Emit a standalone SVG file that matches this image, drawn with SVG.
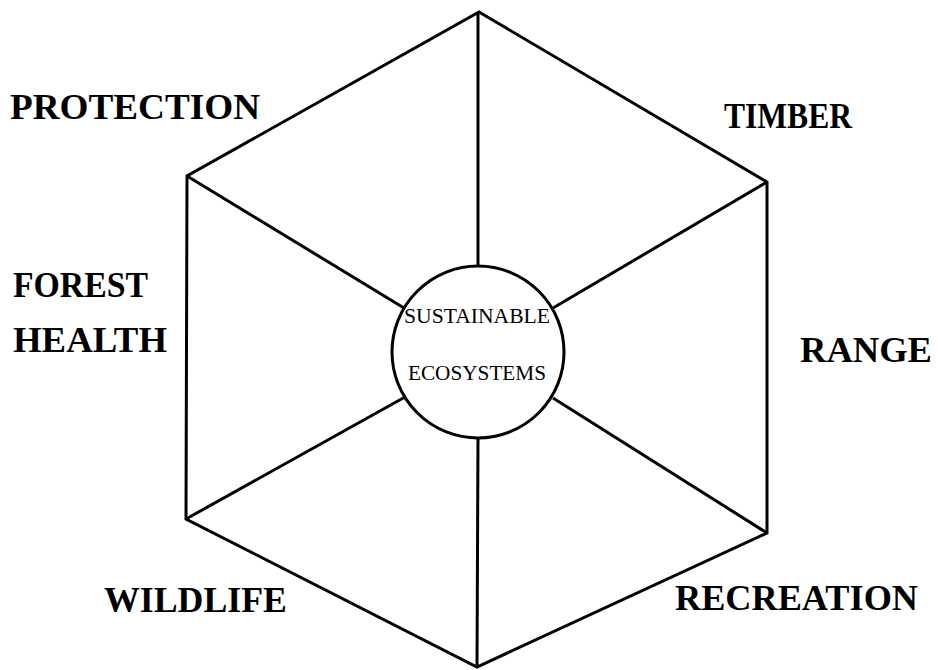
<svg xmlns="http://www.w3.org/2000/svg" width="938" height="670" viewBox="0 0 938 670">
<style>
.edge{fill:none;stroke:#000;stroke-width:3;stroke-linejoin:miter;stroke-linecap:square}
.spoke{fill:none;stroke:#000;stroke-width:3}
.lbl{font-family:"Liberation Serif","Times New Roman",serif;font-weight:bold;font-size:36px;fill:#000}
.ctr{font-family:"Liberation Serif","Times New Roman",serif;font-size:21px;fill:#000}
</style>
<rect width="938" height="670" fill="#fff"/>
<g id="hexagon">
<polygon class="edge" points="479,12 767,182 767,533 477,667 186,519 187,176"/>
</g>
<g id="connectors">
<line class="spoke" x1="478" y1="12" x2="478" y2="266"/>
<line class="spoke" x1="767" y1="182" x2="553" y2="308"/>
<line class="spoke" x1="767" y1="533" x2="553" y2="398"/>
<line class="spoke" x1="477" y1="667" x2="478" y2="438"/>
<line class="spoke" x1="186" y1="519" x2="405" y2="397"/>
<line class="spoke" x1="187" y1="176" x2="404" y2="308"/>
</g>
<g id="center">
<circle cx="478" cy="352" r="86" fill="#fff" stroke="#000" stroke-width="3"/>
<text class="ctr" x="404" y="323" textLength="146" lengthAdjust="spacingAndGlyphs">SUSTAINABLE</text>
<text class="ctr" x="408" y="380" textLength="138" lengthAdjust="spacingAndGlyphs">ECOSYSTEMS</text>
</g>
<g id="protection"><text class="lbl" x="10" y="119" textLength="250" lengthAdjust="spacingAndGlyphs">PROTECTION</text></g>
<g id="timber"><text class="lbl" x="724" y="128" textLength="128" lengthAdjust="spacingAndGlyphs">TIMBER</text></g>
<g id="forest-health">
<text class="lbl" x="13" y="297" textLength="135" lengthAdjust="spacingAndGlyphs">FOREST</text>
<text class="lbl" x="13" y="352" textLength="154" lengthAdjust="spacingAndGlyphs">HEALTH</text>
</g>
<g id="range"><text class="lbl" x="800" y="362" textLength="132" lengthAdjust="spacingAndGlyphs">RANGE</text></g>
<g id="wildlife"><text class="lbl" x="104" y="612" textLength="183" lengthAdjust="spacingAndGlyphs">WILDLIFE</text></g>
<g id="recreation"><text class="lbl" x="675" y="610" textLength="243" lengthAdjust="spacingAndGlyphs">RECREATION</text></g>
</svg>
